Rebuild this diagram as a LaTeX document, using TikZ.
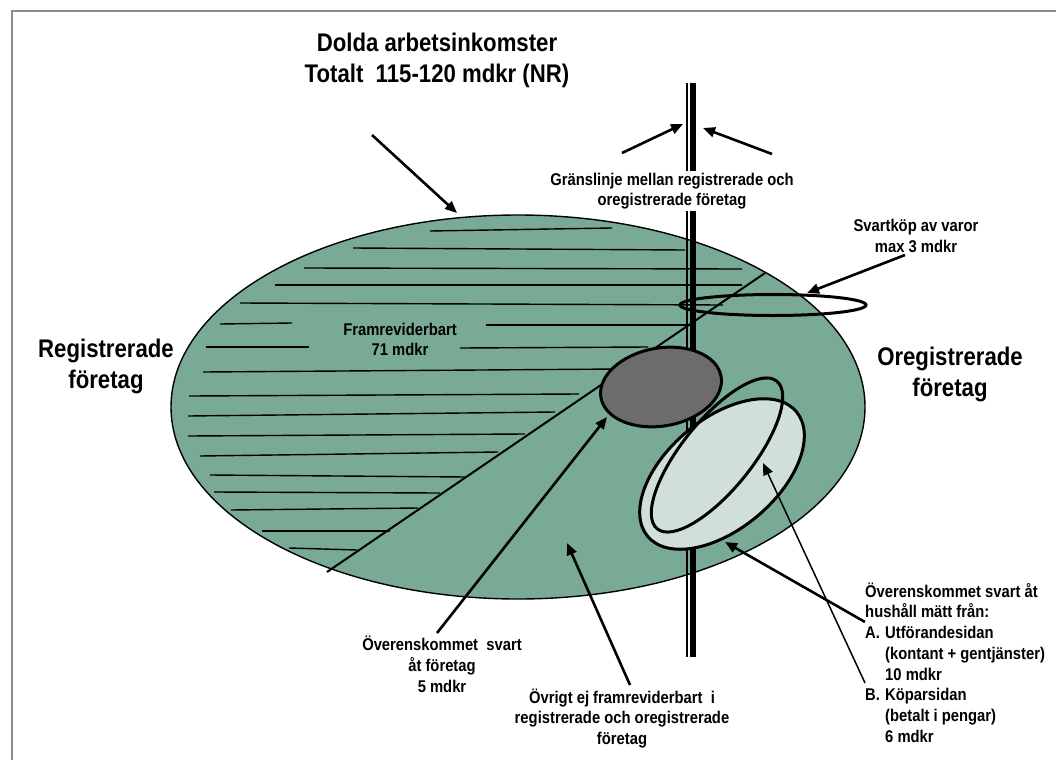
\documentclass[tikz,border=0pt]{standalone}
\usepackage{fontspec}
\setmainfont{Liberation Sans}
\newfontfamily\nar[FakeStretch=0.87]{Liberation Sans}
\usetikzlibrary{shapes.geometric,arrows.meta}
\definecolor{biggreen}{RGB}{120,170,150}
\definecolor{lightgreen}{RGB}{208,224,216}
\definecolor{darkgrey}{RGB}{108,108,108}
\definecolor{framegrey}{RGB}{140,140,140}
\begin{document}
\begin{tikzpicture}[x=1pt,y=-1pt,
  bigtxt/.style={font=\nar\bfseries\fontsize{25.5}{31}\selectfont, align=center, inner sep=0pt},
  smalltxt/.style={font=\nar\bfseries\fontsize{17}{20.7}\selectfont, align=center, inner sep=0pt},
  hatch/.style={line width=1.4pt},
  arr/.style={line width=2.6pt, -{Triangle[length=12pt,width=10pt]}},
  thinarr/.style={line width=1.5pt, -{Triangle[length=12pt,width=10pt]}},
  ell/.style={ellipse, draw, inner sep=0pt, line width=3pt}
]
\useasboundingbox (0,0) rectangle (1056,760);
\fill[white] (0,0) rectangle (1056,760);
\draw[framegrey, line width=2pt] (11.7,760) -- (11.7,10.7) -- (1056,10.7);

% big ellipse
\node[ellipse, draw, fill=biggreen, line width=1.4pt, inner sep=0pt,
      minimum width=694pt, minimum height=384pt] (big) at (518,407) {};

% hatch lines
\foreach \xa/\ya/\xb/\yb in {
  430/231/612/228, 353/248/685/250, 304/268/742/269, 275/285/742/285,
  240/303/723/305, 220/324/292/323, 486/325/688/325, 206/347/309/347,
  460/348/648/347, 203/372/620/369, 189/396/579/394, 188/416/555/412,
  188/436/525/434, 200/456/498/452, 210/475/467/477, 214/492/440/493,
  231/510/418/508, 262/531/390/531, 289/548/357/550}
  \draw[hatch] (\xa,\ya) -- (\xb,\yb);

% boundary line
\coordinate (vtop) at (693,83);
\coordinate (vbot) at (693,657);
\draw[line width=6pt] (vtop) -- (vbot);
\draw[line width=2pt] ([xshift=-6pt]vtop) -- ([xshift=-6pt]vbot);

% diagonal
\coordinate (dA) at (327,572);
\coordinate (dB) at (765,273);
\draw[line width=2pt] (dA) -- (dB);

% inner ellipses
\node[ell, fill=darkgrey, minimum width=122pt, minimum height=78pt, rotate=10] (dark) at (661,387) {};
\node[ell, fill=lightgreen, minimum width=194pt, minimum height=110pt, rotate=40] (light) at (722,474) {};
\node[ell, minimum width=190pt, minimum height=70pt, rotate=51] (outl) at (717,455) {};
\node[ell, minimum width=186pt, minimum height=21pt] (flat) at (773,305) {};

% texts
\node[bigtxt] (title) at (437,60) {Dolda arbetsinkomster\\Totalt\ \ 115-120 mdkr (NR)};
\node[bigtxt] (reg) at (106,366) {Registrerade\\företag};
\node[bigtxt] (oreg) at (950,374) {Oregistrerade\\företag};
\node[smalltxt, fill=white, inner sep=2pt] (grans) at (672,191) {Gränslinje mellan registrerade och\\oregistrerade företag};
\node[smalltxt] (fram) at (400,339.5) {Framreviderbart\\71 mdkr};
\node[smalltxt] (svk) at (916,236) {Svartköp av varor\\max 3 mdkr};
\node[smalltxt] (overf) at (442,664.5) {Överenskommet\ \ svart\\åt företag\\5 mdkr};
\node[smalltxt] (ovr) at (622,718.5) {Övrigt ej framreviderbart\ \ i\\registrerade och oregistrerade\\företag};
\node[smalltxt, align=left, anchor=west] (hush) at (865,662.5) {Överenskommet svart åt\\hushåll mätt från:\\\makebox[20pt][l]{A.}Utförandesidan\\\hspace*{20pt}(kontant + gentjänster)\\\hspace*{20pt}10 mdkr\\\makebox[20pt][l]{B.}Köparsidan\\\hspace*{20pt}(betalt i pengar)\\\hspace*{20pt}6 mdkr};

% arrows
\coordinate (tT) at (372,135);   \coordinate (hT) at (457,213);
\coordinate (tL) at (622,153);   \coordinate (hL) at (683,124);
\coordinate (tR) at (772,154);   \coordinate (hR) at (703,128);
\coordinate (tS) at (905,255);   \coordinate (hS) at (807,293);
\coordinate (tF) at (437,633);   \coordinate (hF) at (607,417);
\coordinate (tO) at (630,685);   \coordinate (hO) at (567,543);
\coordinate (tA) at (865,622);   \coordinate (hA) at (725,542);
\coordinate (tB) at (865,683);   \coordinate (hB) at (763,463);
\draw[arr] (tT) -- (hT);
\draw[arr] (tL) -- (hL);
\draw[arr] (tR) -- (hR);
\draw[arr] (tS) -- (hS);
\draw[arr] (tF) -- (hF);
\draw[arr] (tO) -- (hO);
\draw[arr] (tA) -- (hA);
\draw[thinarr] (tB) -- (hB);
\end{tikzpicture}
\end{document}
